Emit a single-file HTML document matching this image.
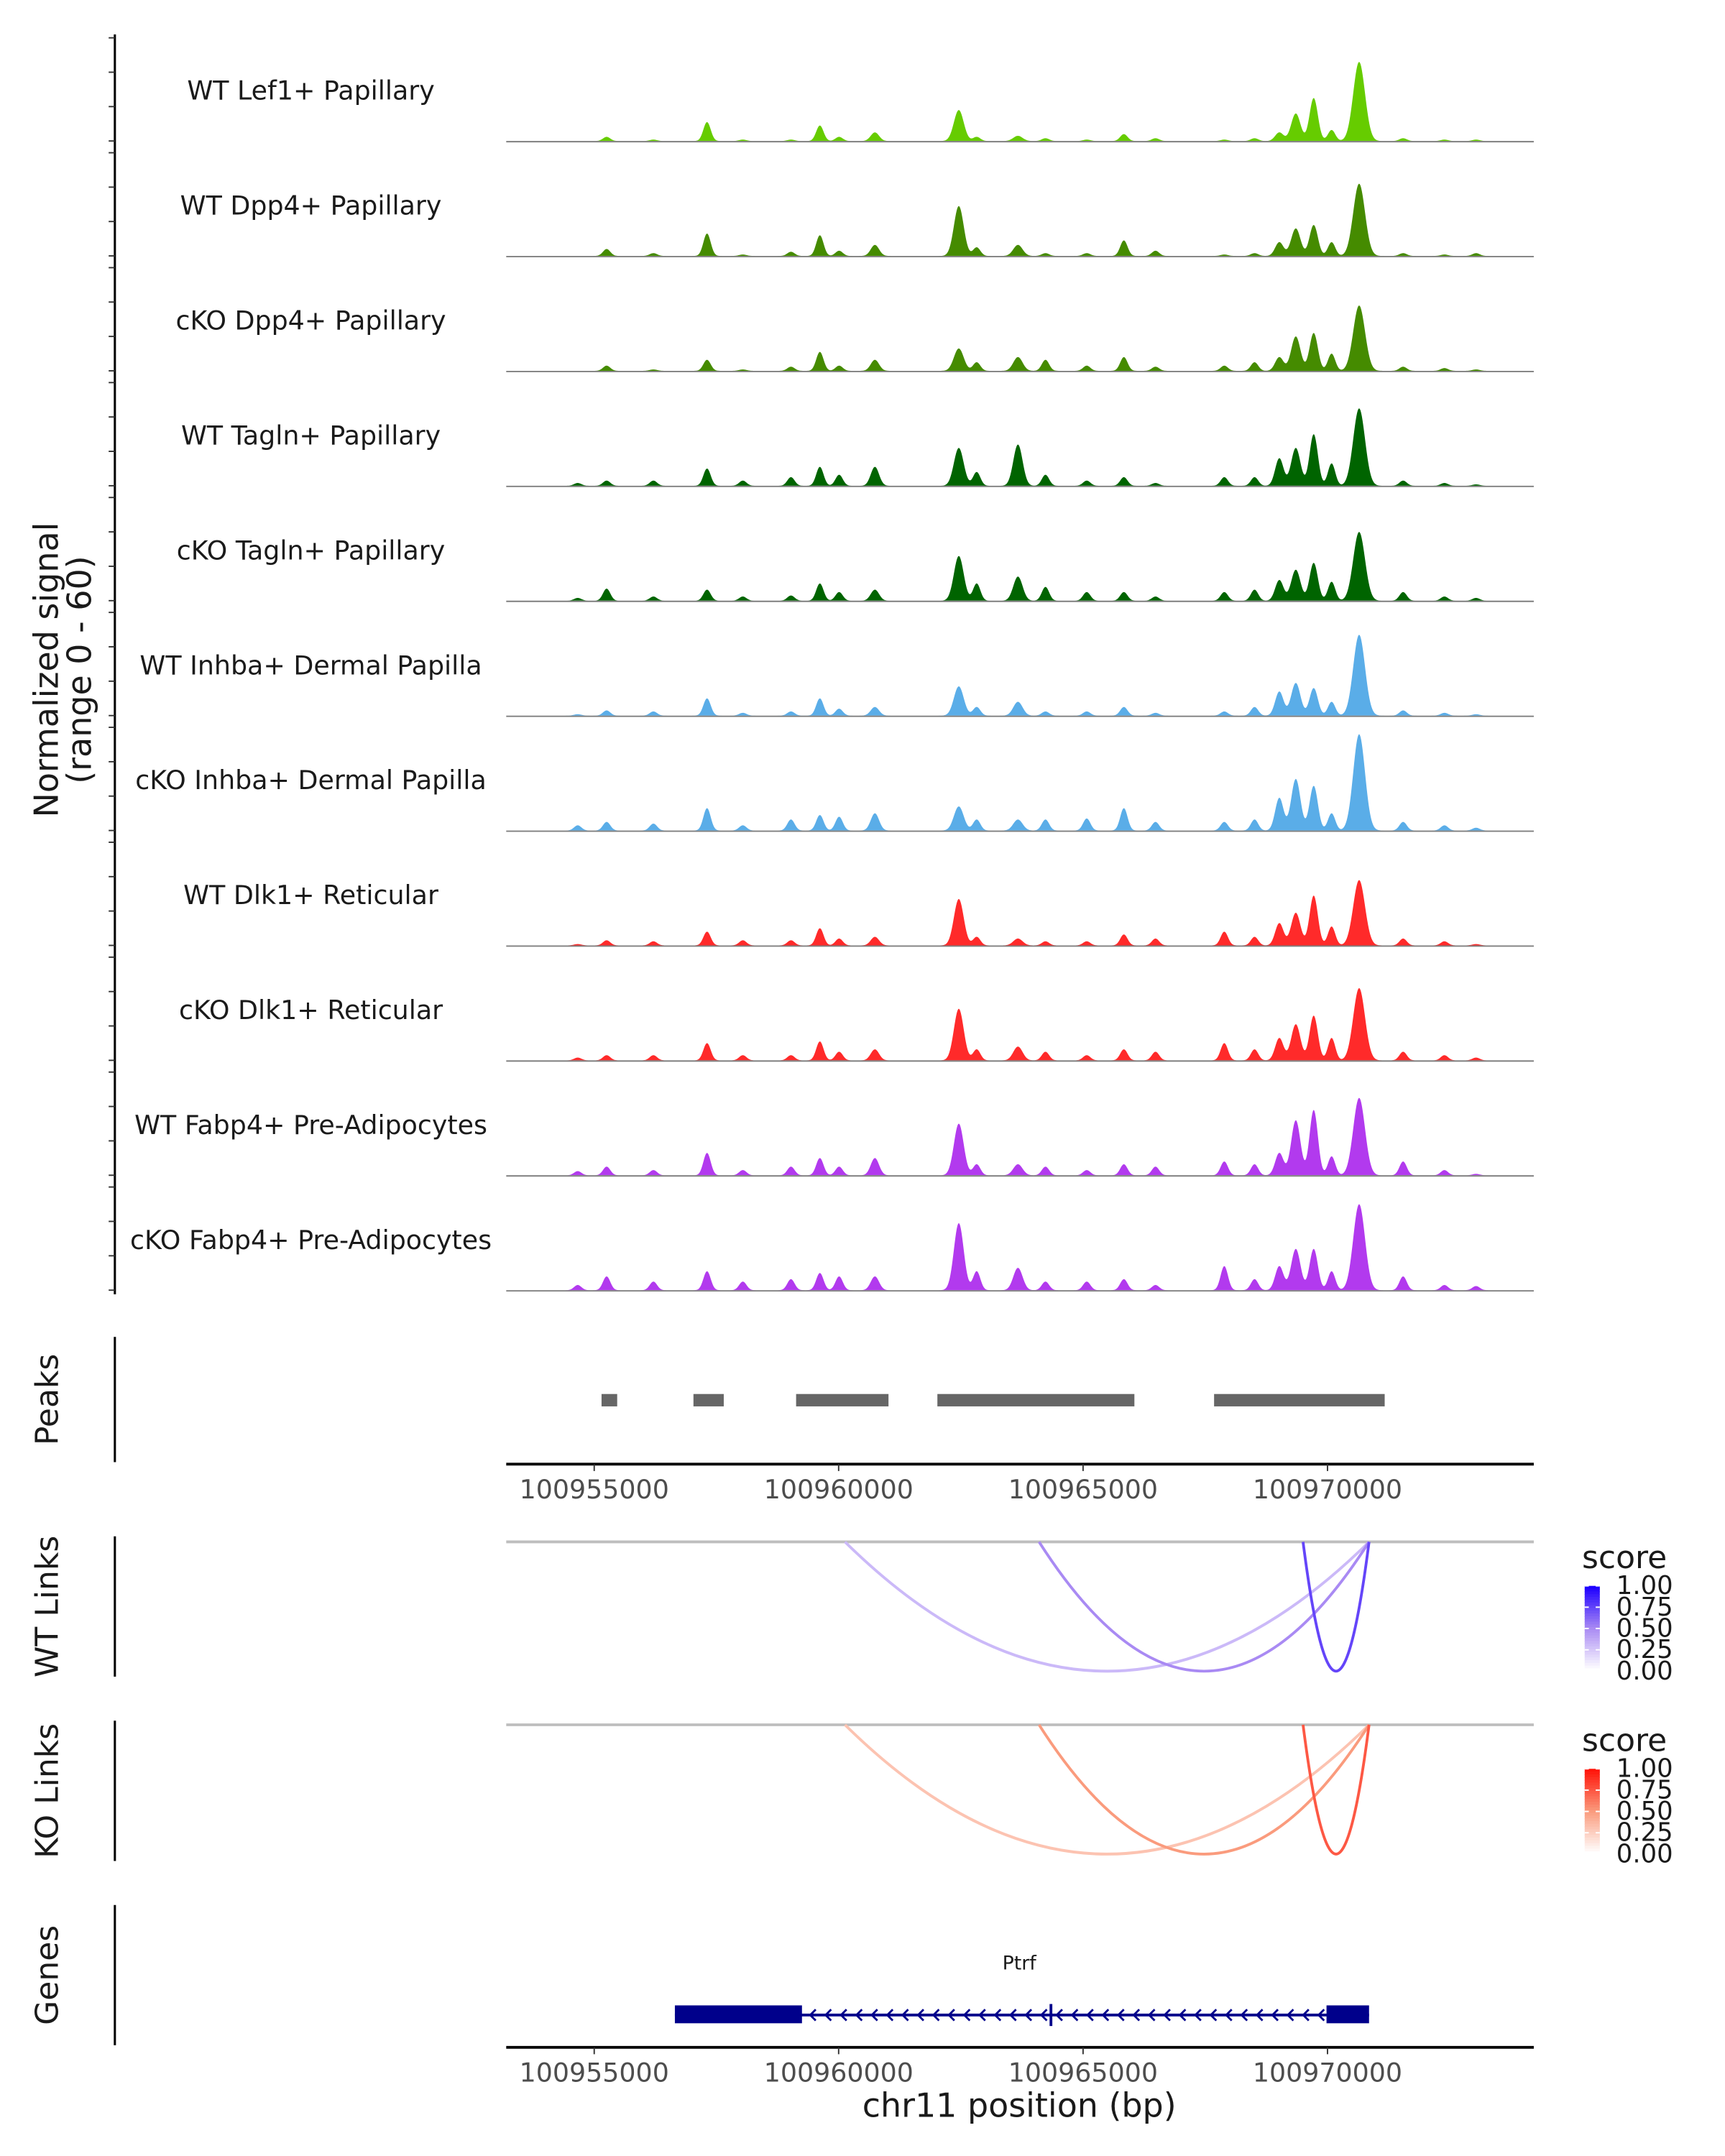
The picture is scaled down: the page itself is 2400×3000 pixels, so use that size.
<!DOCTYPE html>
<html><head><meta charset="utf-8"><style>
html,body{margin:0;padding:0;background:#fff}
svg{display:block}
text{font-family:"DejaVu Sans","Liberation Sans",sans-serif}
</style></head><body>
<svg id="fig" xmlns="http://www.w3.org/2000/svg" width="2400" height="3000" viewBox="0 0 1254 1567.5">
<rect width="1254" height="1567.5" fill="#fff"/>
<g id="tracks"></g>
<g id="peaks"></g>
<g id="links"></g>
<g id="genes"></g>
</svg>
<script>
const trackNames = ["WT Lef1+ Papillary","WT Dpp4+ Papillary","cKO Dpp4+ Papillary","WT Tagln+ Papillary","cKO Tagln+ Papillary","WT Inhba+ Dermal Papilla","cKO Inhba+ Dermal Papilla","WT Dlk1+ Reticular","cKO Dlk1+ Reticular","WT Fabp4+ Pre-Adipocytes","cKO Fabp4+ Pre-Adipocytes"];
const trackColors = ["#66cc00","#458b00","#458b00","#006400","#006400","#5aade8","#5aade8","#ff2a2a","#ff2a2a","#b23aee","#b23aee"];
const peakPos = [100954663,100955254,100956211,100957308,100958040,100959025,100959616,100960010,100960742,100962458,100962824,100963668,100964231,100965075,100965835,100966482,100967889,100968508,100969015,100969352,100969718,100970084,100970647,100971547,100972392,100973039];
const peakSd = [75,75,75,75,75,75,75,75,85,100,75,95,75,75,75,75,75,75,85,95,85,75,120,75,75,75];
const sig0 = [0,2.4,0.8,11,0.8,0.8,9,2.4,5,18,2.4,3,1.6,0.8,4,1.6,0.8,1.6,5,16,25,6.4,46,1.6,0.8,0.8];
const sig1 = [0,4,1.6,13,0.8,2.4,12,3,6.4,29,5,6.4,1.6,1.6,9,3,0.8,1.6,8,16,18,8,42,1.6,0.8,1.6];
const sig2 = [0,3,0.8,6.4,0.8,2.4,11,3,6.4,13,5,8,6.4,3,8,2.4,3,5,8,20,22,10,38,2.4,1.6,0.8];
const sig3 = [1.6,3,3,10,3,5,11,6.4,11,22,8,24,6.4,3,5,1.6,5,5,16,22,30,13,45,3,1.6,0.8];
const sig4 = [1.6,7,2.4,6.4,2.4,3,10,5,6.4,26,10,14,8,5,5,2.4,5,6.4,12,18,22,11,40,5,2.4,1.6];
const sig5 = [0.8,3,2.4,10,1.6,2.4,10,4,5,17,5,8,2.4,2.4,5,1.6,2.4,5,14,19,16,8,47,3,1.6,0.8];
const sig6 = [3,5,4,13,3,6.4,9,8,10,14,6.4,6.4,6.4,7,13,5,5,6.4,19,30,26,10,56,5,3,1.6];
const sig7 = [0.8,3,2.4,8,3,3,10,4,5,27,5,4,2.4,2.4,6.4,4,8,5,13,19,29,11,38,4,2.4,0.8];
const sig8 = [1.6,3,3,10,3,3,11,5,6.4,30,6.4,8,5,3,6.4,5,10,6.4,13,21,26,13,42,5,3,1.6];
const sig9 = [2.4,5,3,13,3,5,10,5,10,30,6.4,6.4,5,3,6.4,5,8,6.4,13,32,38,11,45,8,3,0.8];
const sig10 = [3,8,5,11,5,6.4,10,8,8,39,11,13,5,5,6.4,3,14,6.4,14,24,24,11,50,8,3,2.4];
const signals = [sig0,sig1,sig2,sig3,sig4,sig5,sig6,sig7,sig8,sig9,sig10];
const peakStarts = [100955150,100957030,100959130,100962020,100967680];
const peakEnds = [100955470,100957650,100961020,100966050,100971170];
const xTicks = [100955000,100960000,100965000,100970000];
const linkStarts = [100960130,100964100,100969500];
const linkEnds = [100970850,100970850,100970850];
const wtScores = [0.3,0.5,0.75];
const koScores = [0.3,0.5,0.75];
const legendTicks = ["0.00","0.25","0.50","0.75","1.00"];
const geneStart = 100956650, geneEnd = 100970850, cdsStart = 100959250, cdsEnd = 100969980;

const NS="http://www.w3.org/2000/svg";
const X0=368,X1=1115,B0=100953200,B1=100974220;
const xs = b => X0+(b-B0)/(B1-B0)*(X1-X0);
function el(tag,attrs,parent,txt){const e=document.createElementNS(NS,tag);for(const k in attrs)e.setAttribute(k,attrs[k]);if(txt!==undefined)e.textContent=txt;parent.appendChild(e);return e;}

const gT=document.getElementById('tracks');
const ax=el('line',{x1:83.5,y1:25,x2:83.5,y2:941,stroke:'#000','stroke-width':1.6},gT);


for(let i=0;i<trackNames.length;i++){
  const bot=102.5+i*83.55, top=bot-75;
  const ys=v=>bot-v/60*75;
  for(let t=0;t<=60;t+=20){
    const tk=el('line',{x1:79,x2:83.5,y1:ys(t),y2:ys(t),stroke:'#333','stroke-width':1},gT);
    
    
  }
  const lb=el('text',{x:226,y:top+45,'text-anchor':'middle','font-size':19,fill:'#1a1a1a'},gT,trackNames[i]);
  
  
  let d=`M${X0},${bot}`;
  const sig=signals[i];
  for(let x=X0;x<=X1;x+=0.5){
    const b=B0+(x-X0)/(X1-X0)*(B1-B0);
    let v=0;
    for(let k=0;k<peakPos.length;k++){const z=(b-peakPos[k])/peakSd[k];if(Math.abs(z)<5)v+=sig[k]*Math.exp(-0.5*z*z);}
    v=Math.min(v,60);
    d+=`L${x.toFixed(1)},${ys(v).toFixed(2)}`;
  }
  d+=`L${X1},${bot}Z`;
  const p=el('path',{d:d,fill:trackColors[i]},gT);
  
  
  const bl=el('line',{x1:X0,x2:X1,y1:bot+0.5,y2:bot+0.5,stroke:'#7f7f7f','stroke-width':1},gT);
  
  
}
const yt=el('text',{transform:'translate(42,487) rotate(-90)','text-anchor':'middle','font-size':24,fill:'#1a1a1a'},gT,'Normalized signal');


const yt2=el('text',{transform:'translate(66,487) rotate(-90)','text-anchor':'middle','font-size':24,fill:'#1a1a1a'},gT,'(range 0 - 60)');



function xAxis(parent,y,name){
  const l=el('line',{x1:X0,x2:X1,y1:y,y2:y,stroke:'#000','stroke-width':2},parent);
  
  
  xTicks.forEach(t=>{
    const tk=el('line',{x1:xs(t),x2:xs(t),y1:y,y2:y+5,stroke:'#333','stroke-width':1},parent);
    
    
    const tl=el('text',{x:xs(t),y:y+25,'text-anchor':'middle','font-size':19,fill:'#4d4d4d'},parent,String(t));
    
    
  });
}
function sideLabel(parent,y1,y2,text,name){
  const l=el('line',{x1:83.5,x2:83.5,y1:y1,y2:y2,stroke:'#000','stroke-width':1.6},parent);
  
  
  const t=el('text',{transform:`translate(42,${(y1+y2)/2}) rotate(-90)`,'text-anchor':'middle','font-size':23,fill:'#1a1a1a'},parent,text);
  
  
}

const gP=document.getElementById('peaks');
sideLabel(gP,972,1063,'Peaks','peaks');
for(let i=0;i<peakStarts.length;i++){
  const r=el('rect',{x:xs(peakStarts[i]),y:1013.5,width:xs(peakEnds[i])-xs(peakStarts[i]),height:9,fill:'#666'},gP);
  
  
}
xAxis(gP,1064.5,'peaks-x-axis');

const gL=document.getElementById('links');
function lerp(a,b,t){return a.map((v,i)=>Math.round(v+(b[i]-v)*t));}
function ramp(s,mid,hi){return s<0.5?lerp([255,255,255],mid,s/0.5):lerp(mid,hi,(s-0.5)/0.5);}
function linksPanel(y0,scores,mid,hi,name,label,ly1,ly2){
  sideLabel(gL,ly1,ly2,label,name);
  const gl=el('line',{x1:X0,x2:X1,y1:y0,y2:y0,stroke:'#bebebe','stroke-width':2},gL);
  
  
  for(let i=0;i<linkStarts.length;i++){
    const a=xs(linkStarts[i]),b=xs(linkEnds[i]),c=y0+188;
    const col=ramp(scores[i],mid,hi);
    const p=el('path',{d:`M${a},${y0}Q${(a+b)/2},${c} ${b},${y0}`,fill:'none',stroke:`rgb(${col})`,'stroke-width':2},gL);
    
    
  }
  const lt=el('text',{x:1150,y:y0+19,'font-size':23,fill:'#1a1a1a'},gL,'score');
  
  
  const gy=y0+32, gh=62;
  for(let k=0;k<31;k++){
    const s=1-k/30;const col=ramp(s,mid,hi);
    el('rect',{x:1152,y:gy+k*gh/31,width:11,height:gh/31+0.6,fill:`rgb(${col})`},gL);
  }
  legendTicks.forEach((t,k)=>{
    const yy=gy+gh-k*gh/4;
    el('line',{x1:1152,x2:1155,y1:yy,y2:yy,stroke:'#fff','stroke-width':1},gL);
    el('line',{x1:1160,x2:1163,y1:yy,y2:yy,stroke:'#fff','stroke-width':1},gL);
    const tx=el('text',{x:1175,y:yy+6,'font-size':18.5,fill:'#1a1a1a'},gL,t);
    
    
  });
}
linksPanel(1121,wtScores,[169,138,243],[30,0,255],'wt-links','WT Links',1117,1219);
linksPanel(1254,koScores,[250,155,125],[255,20,10],'ko-links','KO Links',1251,1353);

const gG=document.getElementById('genes');
sideLabel(gG,1385,1487,'Genes','genes');
const gn=el('text',{x:741,y:1432,'text-anchor':'middle','font-size':14,fill:'#1a1a1a'},gG,'Ptrf');


const gl=el('line',{x1:xs(geneStart),x2:xs(geneEnd),y1:1465,y2:1465,stroke:'#00008b','stroke-width':2},gG);


const e1=el('rect',{x:xs(geneStart),y:1458,width:xs(cdsStart)-xs(geneStart),height:13,fill:'#00008b'},gG);


const e2=el('rect',{x:xs(cdsEnd),y:1458,width:xs(geneEnd)-xs(cdsEnd),height:13,fill:'#00008b'},gG);


el('line',{x1:764,x2:764,y1:1457,y2:1473,stroke:'#00008b','stroke-width':2},gG);
for(let x=xs(cdsStart)+6;x<xs(cdsEnd)-3;x+=11.2){
  el('path',{d:`M${x+4},${1461}L${x},${1465}L${x+4},${1469}`,fill:'none',stroke:'#00008b','stroke-width':1.5},gG);
}
xAxis(gG,1488.5,'genes-x-axis');
const xt=el('text',{x:741,y:1539,'text-anchor':'middle','font-size':24,fill:'#1a1a1a'},gG,'chr11 position (bp)');


</script>
</body></html>
